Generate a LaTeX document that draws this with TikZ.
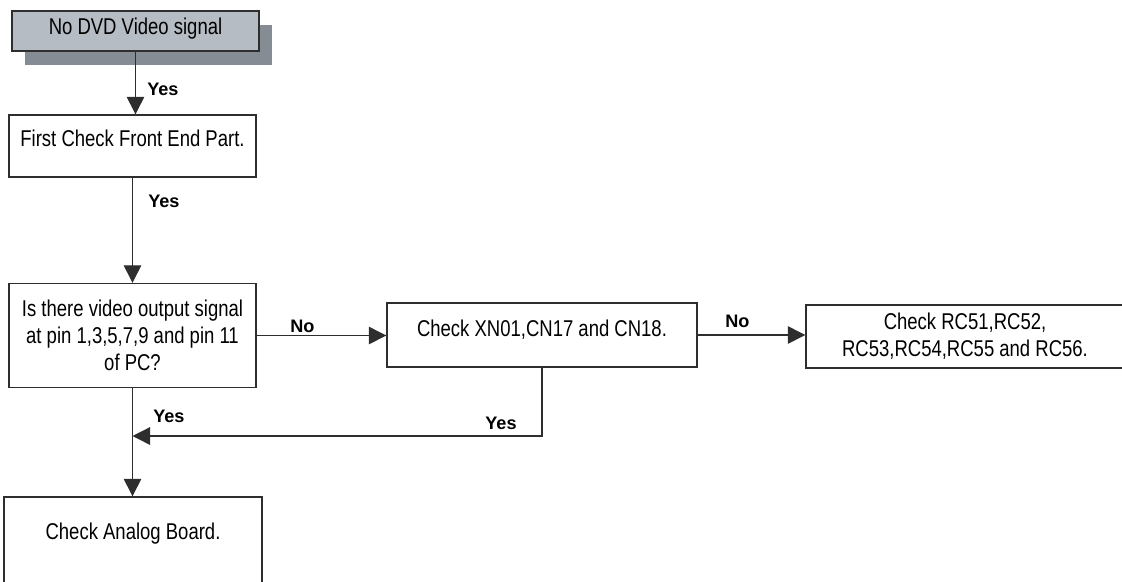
\documentclass[tikz,border=0pt]{standalone}
\usepackage{fontspec}
\setmainfont{Liberation Sans}[FakeStretch=0.81]
\newfontfamily\labelfont{Liberation Sans}
\usetikzlibrary{arrows.meta,shadows}
\definecolor{inkgray}{HTML}{2E2E2E}
\definecolor{startfill}{HTML}{B6BCC4}
\definecolor{startshade}{HTML}{868C94}

\begin{document}
\begin{tikzpicture}[>={Triangle[length=0.35cm,width=0.35cm]},
  box/.style={draw=inkgray, line width=0.8pt, fill=white, inner sep=0pt,
    font=\fontsize{13}{15.2}\selectfont, align=center},
  flow/.style={->, draw=inkgray, line width=0.75pt},
  answer/.style={anchor=base west, inner sep=0pt,
    font=\labelfont\bfseries\fontsize{10.3}{12}\selectfont}]

\clip (0,0) rectangle (22.44,-11.62);

% Start box with its shadow
\node[box, fill=startfill, minimum width=4.94cm, text height=0.46cm, text depth=0.34cm,
  drop shadow={shadow xshift=0.26cm, shadow yshift=-0.27cm, fill=startshade, opacity=1}]
  (start) at (2.71,-0.62) {No DVD Video signal};

% Check boxes
\node[box, minimum width=4.94cm, text height=0.62cm, text depth=0.62cm]
  (frontend) at (2.65,-2.92) {First Check Front End Part.};
\node[box, minimum width=4.94cm, minimum height=2.08cm]
  (pinq) at (2.65,-6.71) {Is there video output signal\\at pin 1,3,5,7,9 and pin 11\\of PC?};
\node[box, minimum width=6.20cm, text height=0.66cm, text depth=0.62cm]
  (xncheck) at (10.84,-6.70) {Check XN01,CN17 and CN18.};
\node[box, minimum width=6.36cm, minimum height=1.26cm]
  (rccheck) at (19.30,-6.73) {Check RC51,RC52,\\RC53,RC54,RC55 and RC56.};
\node[box, minimum width=5.16cm, text height=0.84cm, text depth=1.16cm]
  (analog) at (2.66,-10.94) {Check Analog Board.};

% Connectors
\draw[flow] (start.south) -- (start.south |- frontend.north);
\draw[flow] (frontend.south) -- (frontend.south |- pinq.north);
\draw[flow] (pinq.east) -- (pinq.east -| xncheck.west);
\draw[flow] (xncheck.east) -- (xncheck.east -| rccheck.west);
\draw[flow] (pinq.south) -- (pinq.south |- analog.north);
\coordinate (merge) at (pinq.south |- 0,-8.72);
\draw[flow] (xncheck.south) |- (merge);

% Answers
\node[answer] (yes1) at (2.94,-1.90) {Yes};
\node[answer] (yes2) at (2.96,-4.14) {Yes};
\node[answer] (no1) at (5.80,-6.64) {No};
\node[answer] (no2) at (14.50,-6.54) {No};
\node[answer] (yes3) at (3.06,-8.44) {Yes};
\node[answer] (yes4) at (9.70,-8.58) {Yes};

\end{tikzpicture}
\end{document}
